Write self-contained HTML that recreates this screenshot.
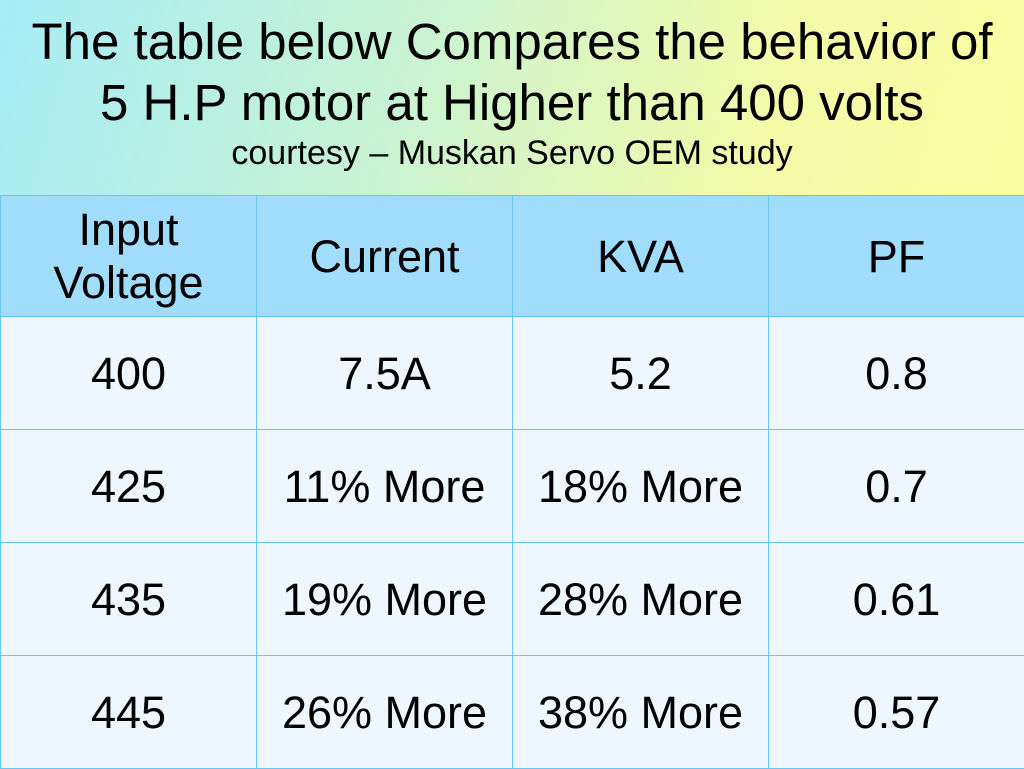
<!DOCTYPE html>
<html><head><meta charset="utf-8"><style>
*{margin:0;padding:0;box-sizing:border-box}
body{width:1024px;height:768px;overflow:hidden;font-family:"Liberation Sans",sans-serif;position:relative;
background:linear-gradient(105deg,#a6ecf6 0%,#c9f3d2 35%,#f3fba8 65%,#fefc9c 100%)}
.t{position:absolute;left:0;width:1024px;text-align:center;color:#000;white-space:nowrap}
table{position:absolute;left:0;top:195px;width:1024px;border-collapse:collapse;table-layout:fixed}
td{border:1.5px solid #67c6f2;text-align:center;vertical-align:middle;font-size:45px;color:#000;line-height:53px}
tr.h td{background:#a0dcfc;height:121px}
tr.r td{background:#edf7fd;height:113px}
</style></head><body>
<div class="t" style="top:12px;font-size:51px">The table below Compares the behavior of</div>
<div class="t" style="top:73px;font-size:51px">5 H.P motor at Higher than 400 volts</div>
<div class="t" style="top:134px;font-size:34px">courtesy – Muskan Servo OEM study</div>
<table>
<colgroup><col style="width:256px"><col style="width:256px"><col style="width:256px"><col style="width:256px"></colgroup>
<tr class="h"><td>Input<br>Voltage</td><td>Current</td><td>KVA</td><td>PF</td></tr>
<tr class="r"><td>400</td><td>7.5A</td><td>5.2</td><td>0.8</td></tr>
<tr class="r"><td>425</td><td>11% More</td><td>18% More</td><td>0.7</td></tr>
<tr class="r"><td>435</td><td>19% More</td><td>28% More</td><td>0.61</td></tr>
<tr class="r"><td>445</td><td>26% More</td><td>38% More</td><td>0.57</td></tr>
</table>
</body></html>
